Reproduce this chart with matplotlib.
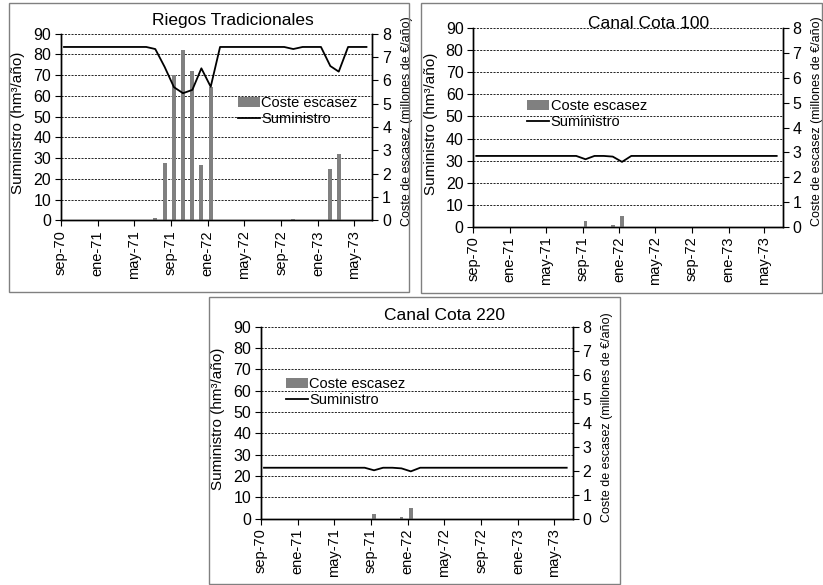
import numpy as np
import pandas as pd
import matplotlib
matplotlib.use("Agg")
import matplotlib.pyplot as plt
from matplotlib.patches import Rectangle

plt.rcParams['font.family'] = ['Liberation Sans', 'DejaVu Sans']

# monthly series sep-70 .. jun-73 (values sit ~10 days into each month)
fechas = pd.date_range("1970-09-01", periods=34, freq="MS") + pd.Timedelta(days=10)

tick_fechas = pd.date_range("1970-09-01", periods=9, freq="4MS")
tick_labels = ["sep-70", "ene-71", "may-71", "sep-71", "ene-72",
               "may-72", "sep-72", "ene-73", "may-73"]

# Riegos Tradicionales
sum_riegos = [83.6] * 10 + [82.6, 74.0, 64.2, 61.3, 62.9, 73.3, 64.4] + [83.6] * 8 \
    + [82.6, 83.6, 83.6, 83.6, 74.4, 71.7, 83.6, 83.6, 83.6]
coste_riegos = [0] * 10 + [0.11, 2.46, 6.22, 7.30, 6.40, 2.38, 5.70] + [0] * 8 \
    + [0.07, 0, 0, 0, 2.19, 2.84, 0, 0, 0]

# Canal Cota 100
sum_c100 = [32.1] * 12 + [30.6, 32.1, 32.1, 31.8, 29.4] + [32.1] * 17
coste_c100 = [0] * 12 + [0.24, 0, 0, 0.08, 0.43] + [0] * 17

# Canal Cota 220
sum_c220 = [23.9] * 12 + [22.7, 23.9, 23.9, 23.6, 22.2] + [23.9] * 17
coste_c220 = [0] * 12 + [0.19, 0, 0, 0.07, 0.44] + [0] * 17

paneles = [
    ("Riegos Tradicionales", sum_riegos, coste_riegos,
     [0.0741, 0.6234, 0.3785, 0.319], (233, 20), (0.568, 0.665),
     (9, 3, 409, 292)),
    ("Canal Cota 100", sum_c100, coste_c100,
     [0.5751, 0.6125, 0.3759, 0.3391], (649, 23), (0.1745, 0.645),
     (421, 3, 822, 293)),
    ("Canal Cota 220", sum_c220, coste_c220,
     [0.3171, 0.1133, 0.3788, 0.3282], (444, 315), (0.08, 0.738),
     (209, 297, 620, 584)),
]

W, H = 823, 585
fig = plt.figure(figsize=(W / 100, H / 100), dpi=100)

for titulo, suministro, coste, pos, tpos, legpos, marco in paneles:
    x0, y0, x1, y1 = marco
    fig.patches.append(Rectangle((x0 / W, 1 - y1 / H), (x1 - x0) / W, (y1 - y0) / H,
                                 transform=fig.transFigure, fill=False,
                                 edgecolor="#808080", lw=1.0))

    ax = fig.add_axes(pos)
    ax2 = ax.twinx()

    ax.set_ylim(0, 90)
    ax.set_yticks(np.arange(0, 91, 10))
    ax2.set_ylim(0, 8)
    ax2.set_yticks(np.arange(0, 9, 1))

    for v in np.arange(10, 91, 10):
        ax.axhline(v, color="black", lw=0.6, ls=(0, (2.5, 1.5)), zorder=0)

    barras = ax2.bar(fechas, coste, width=13, color="#808080", zorder=2)
    linea, = ax2.plot(fechas, suministro, color="black", lw=1.3,
                      transform=ax.transData, zorder=3)
    ax.set_xlim(pd.Timestamp("1970-09-01"), pd.Timestamp("1973-07-01"))

    ax.set_xticks(tick_fechas)
    ax.set_xticklabels(tick_labels, rotation=90, fontsize=10.5)
    ax.tick_params(axis="y", labelsize=11.5, length=4, pad=3)
    ax2.tick_params(axis="y", labelsize=11.5, length=4, pad=3)
    ax.tick_params(axis="x", length=4, pad=3)

    for a in (ax, ax2):
        a.spines["top"].set_visible(False)
        for s in ("left", "right", "bottom"):
            a.spines[s].set_linewidth(1.0)

    ax.set_ylabel("Suministro (hm³/año)", fontsize=11)
    ax.yaxis.set_label_coords(-0.115, 0.52)
    ax2.set_ylabel("Coste de escasez (millones de €/año)", fontsize=9)
    ax2.yaxis.set_label_coords(1.09, 0.53)

    fig.text(tpos[0] / W, 1 - tpos[1] / H, titulo, fontsize=12.5,
             ha="center", va="center")

    ax2.legend([barras, linea], ["Coste escasez", "Suministro"],
               loc="upper left", bbox_to_anchor=legpos, frameon=False,
               fontsize=10.5, handlelength=1.5, handletextpad=0.1,
               labelspacing=0.15, borderpad=0, borderaxespad=0)

fig.savefig("out.png", dpi=100)
